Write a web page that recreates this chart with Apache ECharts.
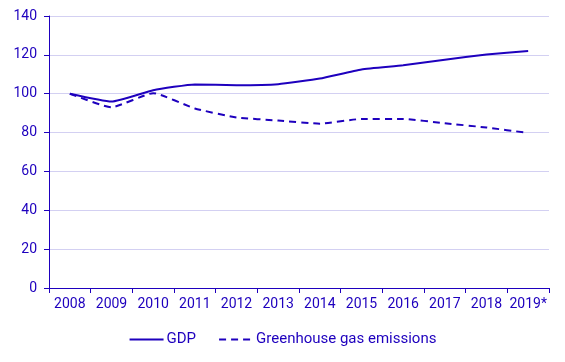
<!DOCTYPE html>
<html><head><meta charset="utf-8">
<script src="https://cdn.jsdelivr.net/npm/echarts@6/dist/echarts.min.js"></script>
<style>html,body{margin:0;padding:0;background:#fff}#c{width:565px;height:362px}</style>
</head><body><div id="c"></div>
<script>
const categories = ['2008','2009','2010','2011','2012','2013','2014','2015','2016','2017','2018','2019*'];
const gdp = [100, 96, 101.8, 104.8, 104.4, 104.9, 107.8, 112.5, 114.6, 117.5, 120.2, 122];
const ghg = [100, 93, 100.3, 92.4, 87.8, 86.2, 84.6, 87, 87, 84.8, 82.6, 79.8];
const yTicks = {min: 0, max: 140, interval: 20};

const blue = '#1e00be';
const font = 'Roboto';
const chart = echarts.init(document.getElementById('c'));
chart.setOption({
  animation: false,
  grid: {left: 49, right: 16, top: 16, bottom: 74},
  xAxis: {
    type: 'category', data: categories, boundaryGap: true,
    axisLine: {lineStyle: {color: blue, width: 1}},
    axisTick: {show: true, length: 5, lineStyle: {color: blue}},
    axisLabel: {color: blue, fontFamily: font, fontSize: 14, margin: 9, interval: 0}
  },
  yAxis: {
    type: 'value', min: yTicks.min, max: yTicks.max, interval: yTicks.interval,
    axisLine: {show: true, lineStyle: {color: blue, width: 1}},
    axisTick: {show: true, length: 5, lineStyle: {color: blue}},
    axisLabel: {color: blue, fontFamily: font, fontSize: 14, margin: 12},
    splitLine: {lineStyle: {color: '#d3d0f2', width: 1}}
  },
  legend: {
    bottom: 10, left: 'center', itemWidth: 34, itemHeight: 10, itemGap: 22,
    textStyle: {color: blue, fontFamily: font, fontSize: 15, padding: [0, 0, 0, -2]},
    itemStyle: {opacity: 0},
    data: ['GDP', 'Greenhouse gas emissions']
  },
  series: [
    {name: 'GDP', type: 'line', data: gdp, symbol: 'none', smooth: 0.15,
     lineStyle: {color: blue, width: 2}, itemStyle: {color: blue}},
    {name: 'Greenhouse gas emissions', type: 'line', data: ghg, symbol: 'none', smooth: 0.15,
     lineStyle: {color: blue, width: 2, type: [7, 5]}, itemStyle: {color: blue}}
  ]
});
</script></body></html>
